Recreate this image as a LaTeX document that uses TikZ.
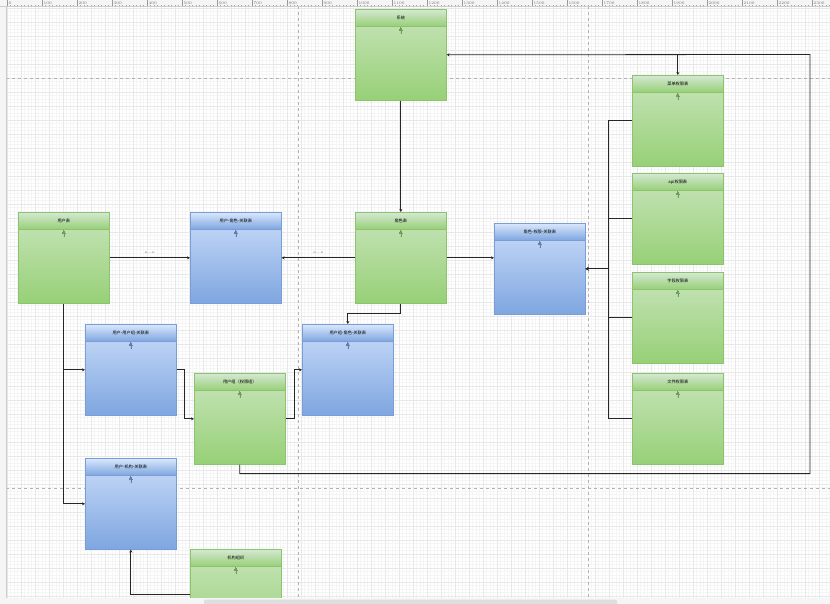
\documentclass[tikz,border=0pt]{standalone}
\usepackage{fontspec}
\newfontfamily\cjk{Noto Sans CJK SC}
\usetikzlibrary{arrows.meta,calc}
\definecolor{gline}{HTML}{8CC46E}
\definecolor{gtop}{HTML}{C8E4BB}
\definecolor{ghtop}{HTML}{D5E8D4}
\definecolor{gbot}{HTML}{97D077}
\definecolor{bline}{HTML}{7B9DD6}
\definecolor{btop}{HTML}{CADCF9}
\definecolor{bhtop}{HTML}{DAE8FC}
\definecolor{bbot}{HTML}{7EA6E0}
\begin{document}
\begin{tikzpicture}[x=1pt,y=-1pt]
\tikzstyle{every node}+=[inner sep=0pt]
\tikzstyle{tbl}=[minimum width=91pt, minimum height=91pt, anchor=north west, line width=0.6pt]
\tikzstyle{tbl-g}=[tbl, draw=gline, top color=gtop, bottom color=gbot]
\tikzstyle{tbl-b}=[tbl, draw=bline, top color=btop, bottom color=bbot]
\tikzstyle{hd}=[minimum width=91pt, minimum height=17pt, anchor=north, line width=0.6pt, font=\fontsize{4.2}{5}\cjk]
\tikzstyle{hd-g}=[hd, draw=gline, top color=ghtop, bottom color=gbot]
\tikzstyle{hd-b}=[hd, draw=bline, top color=bhtop, bottom color=bbot]
\tikzstyle{icon-g}=[draw=gline!80!black, fill=gline!80!black, line width=0.6pt]
\tikzstyle{icon-b}=[draw=bline!80!black, fill=bline!80!black, line width=0.6pt]
\tikzstyle{link}=[draw=black!85, line width=0.8pt, -{Stealth[length=3pt,width=3pt]}]
\tikzstyle{lbl}=[font=\fontsize{3.4}{4}\selectfont, text=black!60]
\clip (0,0) rectangle (830,604);
\useasboundingbox (0,0) rectangle (830,604);
% canvas and grid
\fill[white] (0,0) rectangle (830,604);
\foreach \k in {0,...,236} \draw[black!4, line width=0.3pt] (7+3.5*\k,6) -- (7+3.5*\k,598);
\foreach \k in {2,...,170} \draw[black!4, line width=0.3pt] (6,1+3.5*\k) -- (830,1+3.5*\k);
\foreach \k in {0,...,59} \draw[black!9, line width=0.4pt] (7+14*\k,6) -- (7+14*\k,598);
\foreach \k in {0,...,42} \draw[black!9, line width=0.4pt] (6,8+14*\k) -- (830,8+14*\k);
\draw[black!30, dashed, line width=0.5pt] (298,6) -- (298,598) (588,6) -- (588,598)
  (6,78) -- (830,78) (6,488) -- (830,488);
% rulers
\fill[black!4] (0,0) rectangle (830,6);
\fill[black!4] (0,0) rectangle (6,604);
\draw[black!20, line width=0.4pt] (0,6) -- (830,6) (6,6) -- (6,598);
\foreach \k in {0,...,236} \draw[black!35, line width=0.2pt] (7+3.5*\k,6) -- ++(0,-1.2);
\foreach \i [evaluate=\i as \v using int(\i*100)] in {0,...,23} {
  \draw[black!40, line width=0.3pt] (7+35*\i,6) -- ++(0,-6);
  \node[font=\fontsize{4}{4}\selectfont, text=black!55, anchor=west] (r\i) at (8.5+35*\i,2.8) {\v};
}
% tables
\foreach \n/\x/\y/\t/\c in {sys/355/9/系统/g, menu/632/75/菜单权限表/g, api/632/173/api权限表/g,
  field/632/272/字段权限表/g, file/632/373/文件权限表/g, user/18/212/用户表/g,
  ur/190/212/用户-角色-关联表/b, role/355/212/角色表/g, rp/494/223/角色-权限-关联表/b,
  uug/85/324/用户-用户组-关联表/b, ugr/302/324/用户组-角色-关联表/b, ug/194/373/用户组（权限组）/g,
  uo/85/458/用户-机构-关联表/b, org/190/549/机构组织/g} {
  \node[tbl-\c] (\n) at (\x,\y) {};
  \node[hd-\c] (\n-h) at (\n.north) {\t};
  \draw[icon-\c] ($(\n-h.south)+(0,3)$) -- ++(0,4.5);
  \fill[icon-\c, line width=0pt] ($(\n-h.south)+(0,0.8)$) -- ++(-1.6,3) -- ++(3.2,0) -- cycle;
}
% links
\coordinate (rt) at (810,54.5);
\draw[link] (sys) -- (role);
\draw[link] (user) -- node[lbl, above=4pt] (l-uur) {n---n} (ur);
\draw[link] (role) -- node[lbl, above=4pt] (l-rur) {n---n} (ur);
\draw[link] (role.east) -- (role.east -| rp.west);
\foreach \n in {menu,api,field,file}
  \draw[link] (\n.west) -- ++(-24,0) |- (rp.east);
\draw[link] (ug.south) -- ++(0,9) -| (rt) -- (sys.east);
\draw[link] (rt) -| (menu.north);
\draw[link] (role.south) -- ++(0,10) -| (ugr.north);
\draw[link] (user.south) |- (uo.west);
\draw[link] (user.south |- uug.west) -- (uug.west);
\draw[link] (uug.east) -- ++(8,0) |- (ug.west);
\draw[link] (ug.east) -- ++(9,0) |- (ugr.west);
\draw[link] (org.west) -| (uo.south);
% scroll bar
\fill[black!4] (0,598) rectangle (830,604);
\fill[black!13, rounded corners=2pt] (204,599.5) rectangle (617,606);
\end{tikzpicture}
\end{document}
